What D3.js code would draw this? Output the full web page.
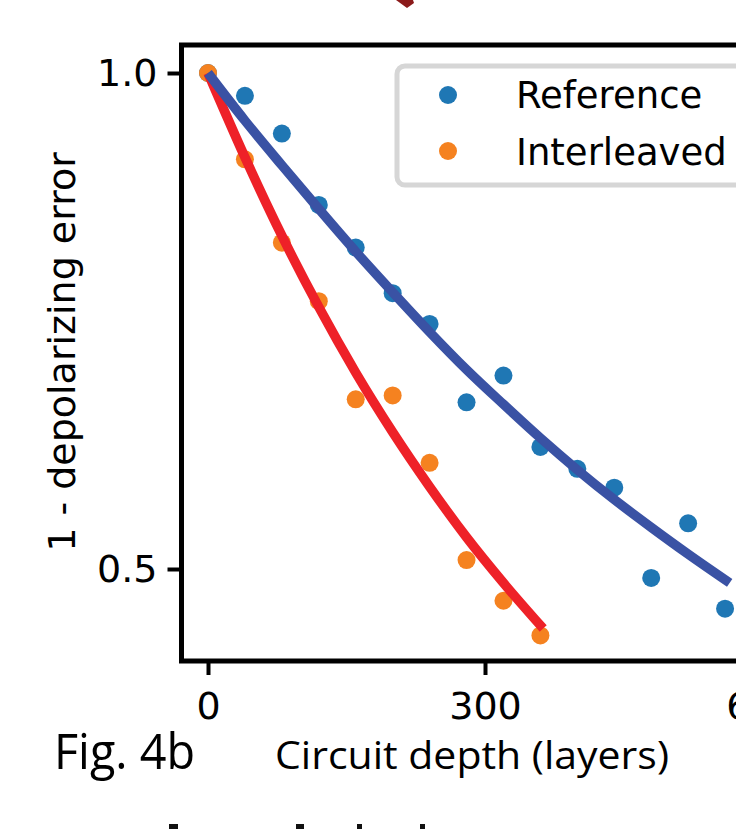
<!DOCTYPE html>
<html>
<head>
<meta charset="utf-8">
<script src="https://cdn.jsdelivr.net/npm/d3@7"></script>
<style>
  body { margin: 0; background: #fff; }
  svg { display: block; }
</style>
</head>
<body>
<svg id="chart" width="736" height="829"></svg>
<script>
// circuit depth (layers) and measured 1 - depolarizing error
const depthRef = [0, 40, 80, 120, 160, 200, 240, 280, 320, 360, 400, 440, 480, 520, 560];
const fidelityRef = [1.0, 0.977, 0.939, 0.867, 0.824, 0.778, 0.747, 0.668, 0.695, 0.623, 0.601, 0.582, 0.491, 0.546, 0.460];

const depthInt = [0, 40, 80, 120, 160, 200, 240, 280, 320, 360];
const fidelityInt = [1.0, 0.913, 0.829, 0.770, 0.671, 0.675, 0.607, 0.509, 0.468, 0.433];

// fitted decay curves
const fitDepthRef = [0, 40, 80, 120, 160, 200, 240, 280, 320, 360, 400, 440, 480, 520, 565];
const fitRef = [1.0, 0.952, 0.907, 0.863, 0.820, 0.779, 0.739, 0.701, 0.666, 0.632, 0.600, 0.570, 0.542, 0.515, 0.486];

const fitDepthInt = [0, 40, 80, 120, 160, 200, 240, 280, 320, 363];
const fitInt = [1.0, 0.915, 0.836, 0.764, 0.698, 0.638, 0.583, 0.532, 0.486, 0.440];

const xTicks = [0, 300, 600];
const yTicks = [0.5, 1.0];
const seriesNames = ["Reference", "Interleaved"];

const svg = d3.select("#chart");

const x = d3.scaleLinear().domain([0, 600]).range([208, 762]);
const y = d3.scaleLinear().domain([0.5, 1.0]).range([569, 73]);

const frameLeft = 181.5, frameTop = 45, frameBottom = 661;
const tickFont = "'DejaVu Sans', sans-serif";

// --- dấu mũi tên bị cắt ở trên ---
svg.append("path")
  .attr("d", "M396,0 L413,0 L414,3 L407,8 Z")
  .attr("fill", "#8b1a1a");

// --- Khung ---
svg.append("rect")
  .attr("x", frameLeft)
  .attr("y", frameTop)
  .attr("width", 700)
  .attr("height", frameBottom - frameTop)
  .attr("fill", "none")
  .attr("stroke", "#000")
  .attr("stroke-width", 5);

// --- Trục X ---
const gx = svg.append("g")
  .attr("transform", `translate(0,${frameBottom})`)
  .call(d3.axisBottom(x).tickValues(xTicks).tickSize(14).tickPadding(17).tickFormat(d3.format("d")));
gx.select(".domain").remove();
gx.selectAll("line").attr("stroke", "#000").attr("stroke-width", 4);
gx.selectAll("text")
  .attr("fill", "#000")
  .style("font-family", tickFont)
  .style("font-size", "38px");

// --- Trục Y ---
const gy = svg.append("g")
  .attr("transform", `translate(${frameLeft},0)`)
  .call(d3.axisLeft(y).tickValues(yTicks).tickSize(14).tickPadding(10).tickFormat(d3.format(".1f")));
gy.select(".domain").remove();
gy.selectAll("line").attr("stroke", "#000").attr("stroke-width", 4);
gy.selectAll("text")
  .attr("fill", "#000")
  .style("font-family", tickFont)
  .style("font-size", "38px");

// --- Điểm đo ---
const refPts = depthRef.map((d, i) => ({ x: d, y: fidelityRef[i] }));
const intPts = depthInt.map((d, i) => ({ x: d, y: fidelityInt[i] }));

svg.append("g").selectAll("circle")
  .data(refPts)
  .enter()
  .append("circle")
  .attr("cx", d => x(d.x))
  .attr("cy", d => y(d.y))
  .attr("r", 9)
  .attr("fill", "#1f77b4");

svg.append("g").selectAll("circle")
  .data(intPts)
  .enter()
  .append("circle")
  .attr("cx", d => x(d.x))
  .attr("cy", d => y(d.y))
  .attr("r", 9)
  .attr("fill", "#f58220");

// --- Đường fit ---
const line = d3.line()
  .x(d => x(d.x))
  .y(d => y(d.y))
  .curve(d3.curveMonotoneX);

svg.append("path")
  .datum(fitDepthInt.map((d, i) => ({ x: d, y: fitInt[i] })))
  .attr("d", line)
  .attr("fill", "none")
  .attr("stroke", "#ee2128")
  .attr("stroke-width", 9.5);

svg.append("path")
  .datum(fitDepthRef.map((d, i) => ({ x: d, y: fitRef[i] })))
  .attr("d", line)
  .attr("fill", "none")
  .attr("stroke", "#3a52a4")
  .attr("stroke-width", 9.5);

// --- Chú thích ---
const legend = svg.append("g");
legend.append("rect")
  .attr("x", 397)
  .attr("y", 66)
  .attr("width", 400)
  .attr("height", 119)
  .attr("rx", 8)
  .attr("fill", "#fff")
  .attr("stroke", "#d6d6d6")
  .attr("stroke-width", 5);

const legendColors = ["#1f77b4", "#f58220"];
seriesNames.forEach((name, i) => {
  legend.append("circle")
    .attr("cx", 448)
    .attr("cy", 95 + i * 56)
    .attr("r", 9)
    .attr("fill", legendColors[i]);
  legend.append("text")
    .attr("x", 516)
    .attr("y", 108 + i * 57)
    .style("font-family", tickFont)
    .style("font-size", "37px")
    .attr("fill", "#000")
    .text(name);
});

// --- Nhãn trục Y ---
svg.append("text")
  .attr("transform", "rotate(-90)")
  .attr("x", -352)
  .attr("y", 75)
  .attr("text-anchor", "middle")
  .style("font-family", tickFont)
  .style("font-size", "38px")
  .attr("fill", "#000")
  .text("1 - depolarizing error");

// --- Nhãn trục X và tên hình ---
const capFont = "'Liberation Sans Narrow', 'Open Sans', sans-serif";
svg.append("text")
  .attr("x", 275)
  .attr("y", 769)
  .attr("textLength", 394)
  .attr("lengthAdjust", "spacingAndGlyphs")
  .style("font-family", capFont)
  .style("font-size", "39px")
  .attr("fill", "#000")
  .text("Circuit depth (layers)");

svg.append("text")
  .attr("x", 54)
  .attr("y", 769)
  .attr("textLength", 141)
  .attr("lengthAdjust", "spacingAndGlyphs")
  .style("font-family", capFont)
  .style("font-size", "50px")
  .attr("fill", "#000")
  .text("Fig. 4b");

// --- phần chữ dòng dưới bị cắt ---
const cutMarks = [169, 296, 357, 420];
svg.append("g").selectAll("rect")
  .data(cutMarks)
  .enter()
  .append("rect")
  .attr("x", d => d)
  .attr("y", 824)
  .attr("width", d => d === 169 ? 9 : (d === 296 ? 8 : 5))
  .attr("height", 5)
  .attr("fill", "#111");
</script>
</body>
</html>
